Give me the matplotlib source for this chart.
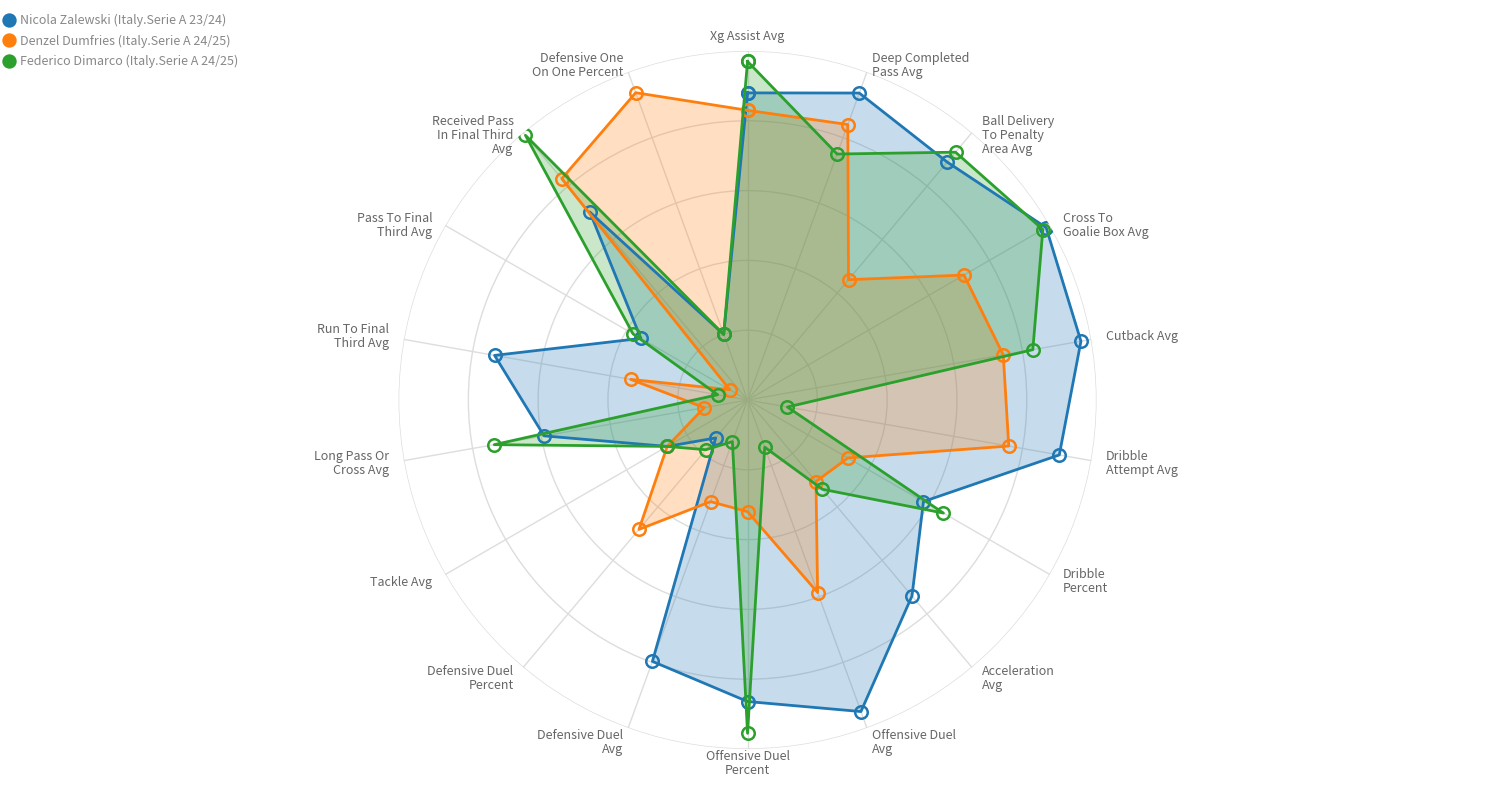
import numpy as np
import matplotlib
matplotlib.use("Agg")
import matplotlib.pyplot as plt

plt.rcParams['font.family'] = ['Noto Sans CJK SC', 'DejaVu Sans']

# Achsen (im Uhrzeigersinn ab oben)
categories = [
    "Xg Assist Avg", "Deep Completed\nPass Avg", "Ball Delivery\nTo Penalty\nArea Avg",
    "Cross To\nGoalie Box Avg", "Cutback Avg", "Dribble\nAttempt Avg",
    "Dribble\nPercent", "Acceleration\nAvg", "Offensive Duel\nAvg",
    "Offensive Duel\nPercent", "Defensive Duel\nAvg", "Defensive Duel\nPercent",
    "Tackle Avg", "Long Pass Or\nCross Avg", "Run To Final\nThird Avg",
    "Pass To Final\nThird Avg", "Received Pass\nIn Final Third\nAvg",
    "Defensive One\nOn One Percent",
]

players = [
    "Nicola Zalewski (Italy.Serie A 23/24)",
    "Denzel Dumfries (Italy.Serie A 24/25)",
    "Federico Dimarco (Italy.Serie A 24/25)",
]

zalewski = [88, 93.6, 89, 98.8, 97, 90.7, 58.2, 73.3, 95, 86.4, 79.7, 14.2, 26.6, 59.2, 73.6, 35.3, 70.3, 20]
dumfries = [83, 84, 45, 71.6, 74.4, 76, 33.2, 30.5, 58.7, 32, 31, 48.4, 26.6, 12.6, 34, 5.9, 82.8, 93.7]
dimarco = [97, 75, 92.7, 97.7, 83, 11.6, 64.8, 33.4, 14.4, 95.5, 12.7, 18.6, 26.6, 73.7, 8.7, 37.9, 99, 20]

colors = ['#1f77b4', '#ff7f0e', '#2ca02c']
series = [zalewski, dumfries, dimarco]

n = len(categories)
angles = np.arange(n) * 2 * np.pi / n

fig = plt.figure(figsize=(14.96, 8), dpi=100)
ax = fig.add_axes([0.2664, 0.06375, 0.4666, 0.8725], projection='polar')
ax.set_theta_zero_location('N')
ax.set_theta_direction(-1)
ax.set_ylim(0, 100)
ax.set_yticks([20, 40, 60, 80, 100])
ax.set_yticklabels([])
ax.set_xticks(angles)
ax.set_xticklabels([])
ax.grid(True, color='#dddddd', linewidth=1)
ax.spines['polar'].set_visible(False)
ax.set_axisbelow(True)

# Serien zeichnen
for vals, col, name in zip(series, colors, players):
    a = np.append(angles, angles[0])
    v = np.append(vals, vals[0])
    ax.fill(a, v, color=col, alpha=0.25, linewidth=0)
    ax.plot(a, v, color=col, linewidth=2, marker='o', markersize=9,
            markerfacecolor='none', markeredgewidth=1.8, label=name)

# Achsenbeschriftungen
r_lab = 100 * 364 / 349
for ang, lab in zip(angles, categories):
    s, c = np.sin(ang), np.cos(ang)
    if abs(s) < 1e-6:
        ha = 'center'
    elif s > 0:
        ha = 'left'
    else:
        ha = 'right'
    if c > 0.3:
        va, dy = 'top', 4.5
    else:
        va, dy = 'center', 0
    ax.annotate(lab, xy=(ang, r_lab), xytext=(0, dy), textcoords='offset points',
                ha=ha, va=va, fontsize=9, color='#666666',
                multialignment=ha, linespacing=1.1, annotation_clip=False)

# Legende oben links
leg = fig.legend(loc='upper left', bbox_to_anchor=(-0.004, 0.997), frameon=False,
                 fontsize=9, handlelength=0.6, handletextpad=0.6, labelspacing=0.6,
                 markerscale=0.95)
for h in leg.legend_handles:
    h.set_linestyle('none')
    h.set_markerfacecolor(h.get_color())
for t in leg.get_texts():
    t.set_color('#888888')

fig.savefig('out.png', dpi=100)
